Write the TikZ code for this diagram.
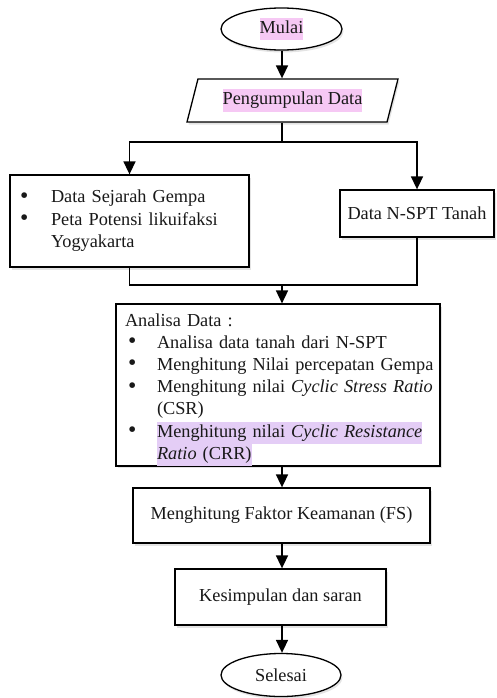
\documentclass[tikz,border=0pt]{standalone}
\usepackage{fontspec}
\setmainfont{Liberation Serif}
\usepackage{tikz}
\usetikzlibrary{arrows.meta,shapes.geometric,shadows}
\definecolor{hlpink}{HTML}{F6C8F4}
\definecolor{hlungu}{HTML}{E4CDF6}
\setlength{\fboxsep}{0pt}
\newcommand{\tandai}[1]{\colorbox{hlpink}{\strut #1}}% sorot merah muda
\newcommand{\tandaiu}[1]{\colorbox{hlungu}{\strut #1}}% sorot ungu
\newcommand{\butir}[3]{\hspace*{#1}\makebox[#2][l]{\raisebox{-0.5pt}{\scalebox{1.3}{\textbullet}}}\mbox{#3}}% satu butir
\tikzset{
  fc_box/.style = {draw=black, line width=1.3pt, fill=white, text=black!90,
    font=\fontsize{18.3}{22.5}\selectfont, inner sep=0pt,
    drop shadow={fill=black!35, opacity=.3, shadow xshift=1.5pt,
      shadow yshift=-2.5pt}},
  fc_term/.style = {fc_box, ellipse, minimum width=121pt,
    minimum height=42pt},% mulai, selesai
  fc_io/.style = {fc_box, trapezium, trapezium left angle=64,
    trapezium right angle=116, trapezium stretches body,
    minimum width=211pt, minimum height=43pt},% masukan data
  fc_proc/.style = {fc_box, rectangle, align=center},% proses
  fc_list/.style = {fc_box, rectangle, align=left}% kotak berbutir
}

\begin{document}
\begin{tikzpicture}[x=1pt,y=-1pt,->,>={Triangle[length=13pt,width=12pt]},
    line width=1.6pt]
  \useasboundingbox (0,0) rectangle (496,698);
  \node [fc_term] (mulai) at (281.5,29) {\tandai{Mulai}};
  \node [fc_io] (kumpul) at (292.5,100.5) {\tandai{Pengumpulan Data}};
  \node [fc_list, minimum width=239pt, minimum height=92pt,
    text width=219pt, inner xsep=10pt] (sejarah) at (129.5,221)
    {\butir{0pt}{31pt}{Data Sejarah Gempa}\\
     \butir{0pt}{31pt}{Peta Potensi likuifaksi}\\
     \hspace*{31pt}\mbox{Yogyakarta}};
  \node [fc_list, minimum width=324pt, minimum height=158pt,
    text width=306pt, inner xsep=9pt,
    font=\fontsize{18.3}{22.2}\selectfont] (analisa) at (278,385)
    {\rule{0pt}{22pt}\mbox{Analisa Data :}\\
     \butir{3pt}{29pt}{Analisa data tanah dari N-SPT}\\
     \butir{3pt}{29pt}{Menghitung Nilai percepatan Gempa}\\
     \butir{3pt}{29pt}{Menghitung nilai \textit{Cyclic Stress Ratio}}\\
     \hspace*{32pt}\mbox{(CSR)}\\
     \butir{3pt}{29pt}{\tandaiu{Menghitung nilai \textit{Cyclic Resistance}}}\\
     \hspace*{32pt}\tandaiu{\textit{Ratio} (CRR)}};
  \node [fc_proc, minimum width=154pt, minimum height=47pt] (nspt)
    at (417,213.5) {Data N-SPT Tanah};
  \node [fc_proc, minimum width=297pt, minimum height=55pt] (fs)
    at (281.5,515.5) {Menghitung Faktor Keamanan (FS)};
  \node [fc_proc, minimum width=211pt, minimum height=56pt] (simpul)
    at (280.5,597) {Kesimpulan dan saran};
  \node [fc_term, minimum width=120pt, minimum height=43pt] (selesai)
    at (281,675) {Selesai};

  \coordinate (cabang) at (282,142);
  \coordinate (gabung) at (282,285);

  \draw (mulai.south -| cabang) -- (cabang |- kumpul.north);
  \draw [-] (kumpul.south -| cabang) -- (cabang);
  \draw (cabang) -| (sejarah.north);
  \draw (cabang) -| (nspt.north);
  \draw [-] (sejarah.south) |- (gabung);
  \draw [-] (nspt.south) |- (gabung);
  \draw (gabung) -- (gabung |- analisa.north);
  \foreach \from/\to in {analisa/fs,fs/simpul,simpul/selesai}
    \draw (\from.south -| cabang) -- (cabang |- \to.north);
\end{tikzpicture}
\end{document}
